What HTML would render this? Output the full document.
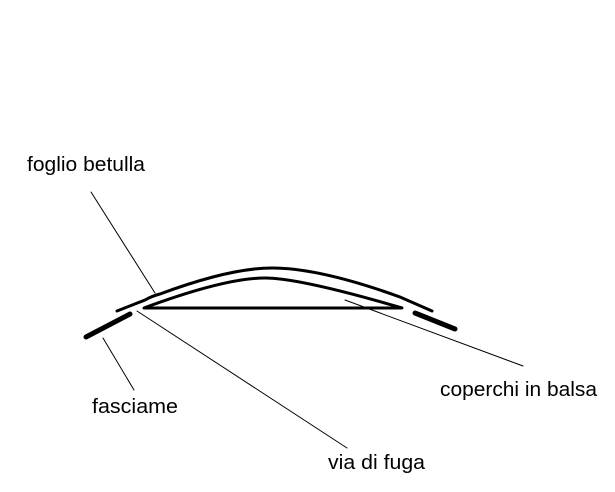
<!DOCTYPE html>
<html><head><meta charset="utf-8"><style>
html,body{margin:0;padding:0;background:#fff;}
svg{display:block;}
text{font-family:"Liberation Sans",Arial,sans-serif;font-size:20.5px;fill:#000;}
</style></head><body>
<svg width="615" height="492" viewBox="0 0 615 492" xmlns="http://www.w3.org/2000/svg">
<g fill="none" stroke="#000" stroke-linecap="round">
<path d="M117,311 L145,300 Q152,296 160,294 Q230,268 272,268 Q320,268 400,297 L432,311" stroke-width="3"/>
<path d="M144,308 Q225,278 265,278 Q300,278 402,308 Z" stroke-width="3" stroke-linejoin="round"/>
<path d="M86,337 L130,314" stroke-width="5"/>
<path d="M415,313 L455,329" stroke-width="5"/>
<g stroke-width="1">
<path d="M91,192 L155,293"/>
<path d="M103,338 L134,390"/>
<path d="M137,311 L347,448"/>
<path d="M345,300 L523,366"/>
</g>
</g>
<text x="27" y="171" textLength="118" lengthAdjust="spacingAndGlyphs">foglio betulla</text>
<text x="92" y="413" textLength="86" lengthAdjust="spacingAndGlyphs">fasciame</text>
<text x="328" y="469" textLength="97" lengthAdjust="spacingAndGlyphs">via di fuga</text>
<text x="440" y="396" textLength="157" lengthAdjust="spacingAndGlyphs">coperchi in balsa</text>
</svg>
</body></html>
